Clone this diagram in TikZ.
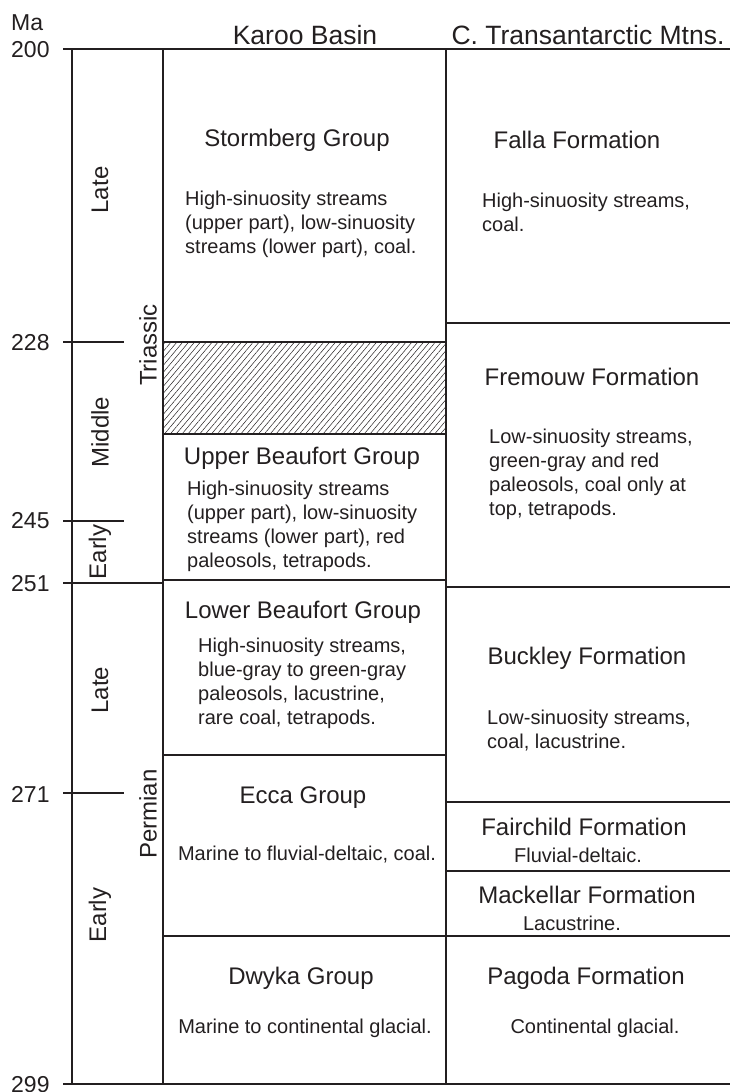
\documentclass[tikz,border=0pt]{standalone}
\usepackage{fontspec}
\setmainfont{Liberation Sans}
\usetikzlibrary{patterns.meta}

\definecolor{ink}{RGB}{35,31,32}

\tikzset{
	unit/.style={draw=ink, line width=1.6pt},
	hdr/.style={font=\fontsize{26.5}{31}\selectfont, text=ink, inner sep=0pt},
	ttl/.style={font=\fontsize{24}{29}\selectfont, text=ink, inner sep=0pt},
	txt/.style={font=\fontsize{20}{24}\selectfont, text=ink, inner sep=0pt, align=left},
	era/.style={font=\fontsize{24}{29}\selectfont, text=ink, inner sep=0pt, rotate=90},
	age/.style={font=\fontsize{23}{28}\selectfont, text=ink, inner sep=0pt, anchor=west}
}

\begin{document}
\begin{tikzpicture}[x=1pt, y=-1pt]
				\useasboundingbox (0,0) rectangle (730,1092);
				
				% gap in the Karoo record
				\path [pattern={Lines[angle=50,distance=4.5pt,line width=0.5pt]}, pattern color=ink] (163,341) rectangle (446,434);
				
				% frame and columns
				\draw [unit] (63,49) -- (730,49);
				\draw [unit] (63,1084) -- (730,1084);
				\draw [unit] (72,49) -- (72,1084);
				\draw [unit] (163,49) -- (163,1084);
				\draw [unit] (446,49) -- (446,1084);
				
				% time ticks
				\draw [unit] (63,342) -- (124,342);
				\draw [unit] (63,521) -- (124,521);
				\draw [unit] (63,583) -- (163,583);
				\draw [unit] (63,793) -- (124,793);
				
				% Karoo units
				\draw [unit] (163,342) -- (446,342);
				\draw [unit] (163,434) -- (446,434);
				\draw [unit] (163,580) -- (446,580);
				\draw [unit] (163,755) -- (446,755);
				\draw [unit] (163,936) -- (446,936);
				
				% Transantarctic units
				\draw [unit] (446,323) -- (730,323);
				\draw [unit] (446,587) -- (730,587);
				\draw [unit] (446,802) -- (730,802);
				\draw [unit] (446,871) -- (730,871);
				\draw [unit] (446,936) -- (730,936);
				
				% ages
				\node [age] (ma) at (11,23) {Ma};
				\foreach \y/\lab in {50/200, 343/228, 521/245, 584/251, 794/271, 1085/299}
					\node [age] (a\lab) at (11,\y) {\lab};
				
				\node [era] (latetr) at (100,190) {Late};
				\node [era] (midtr) at (100,432) {Middle};
				\node [era] (earlytr) at (100,552) {Early};
				\node [era] (triassic) at (148,345) {Triassic};
				\node [era] (latep) at (100,690) {Late};
				\node [era] (earlyp) at (100,915) {Early};
				\node [era] (permian) at (148,814) {Permian};
				
				% headings
				\node [hdr] (karoo) at (305,35) {Karoo Basin};
				\node [hdr] (tam) at (588,35) {C. Transantarctic Mtns.};
				
				% Karoo Basin
				\node [ttl] (storm) at (297,140) {Stormberg Group};
				\node [txt, anchor=west] (stormtx) at (185,224) {High-sinuosity streams\\(upper part), low-sinuosity\\streams (lower part), coal.};
				\node [ttl] (ubeau) at (302,458) {Upper Beaufort Group};
				\node [txt, anchor=west] (ubeautx) at (187,526) {High-sinuosity streams\\(upper part), low-sinuosity\\streams (lower part), red\\paleosols, tetrapods.};
				\node [ttl] (lbeau) at (303,612) {Lower Beaufort Group};
				\node [txt, anchor=west] (lbeautx) at (198,683) {High-sinuosity streams,\\blue-gray to green-gray\\paleosols, lacustrine,\\rare coal, tetrapods.};
				\node [ttl] (ecca) at (303,798) {Ecca Group};
				\node [txt] (eccatx) at (307,855) {Marine to fluvial-deltaic, coal.};
				\node [ttl] (dwyka) at (301,978) {Dwyka Group};
				\node [txt] (dwykatx) at (305,1028) {Marine to continental glacial.};
				
				% Transantarctic Mtns.
				\node [ttl] (falla) at (577,140) {Falla Formation};
				\node [txt, anchor=west] (fallatx) at (482,212) {High-sinuosity streams,\\coal.};
				\node [ttl] (fremouw) at (592,377) {Fremouw Formation};
				\node [txt, anchor=west] (fremouwtx) at (489,474) {Low-sinuosity streams,\\green-gray and red\\paleosols, coal only at\\top, tetrapods.};
				\node [ttl] (buckley) at (587,658) {Buckley Formation};
				\node [txt, anchor=west] (buckleytx) at (487,731) {Low-sinuosity streams,\\coal, lacustrine.};
				\node [ttl] (fair) at (584,827) {Fairchild Formation};
				\node [txt] (fairtx) at (578,855) {Fluvial-deltaic.};
				\node [ttl] (mack) at (587,895) {Mackellar Formation};
				\node [txt] (macktx) at (572,923) {Lacustrine.};
				\node [ttl] (pagoda) at (586,978) {Pagoda Formation};
				\node [txt] (pagodatx) at (595,1028) {Continental glacial.};
\end{tikzpicture}
\end{document}
